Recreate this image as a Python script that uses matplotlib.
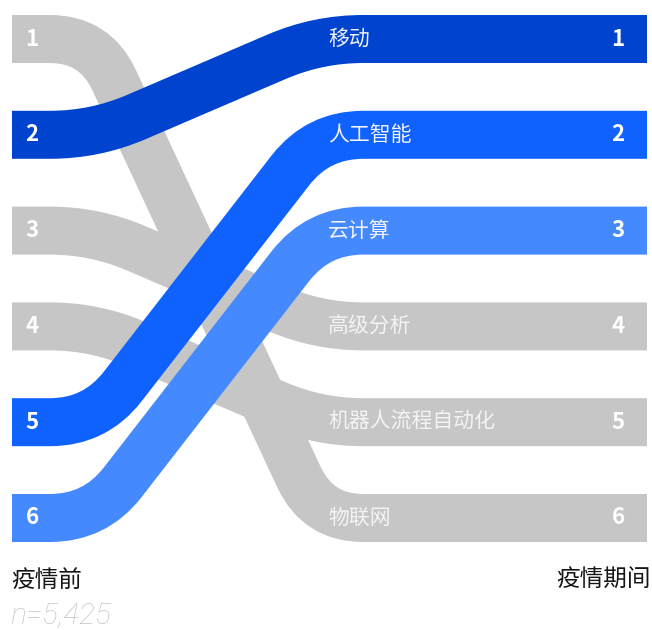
import matplotlib.pyplot as plt
from matplotlib.path import Path
from matplotlib.patches import PathPatch
import numpy as np

plt.rcParams['font.family'] = ['Noto Sans CJK SC', 'DejaVu Sans']

# data
technologies = ['移动', '人工智能', '云计算', '高级分析', '机器人流程自动化', '物联网']
rank_before = [2, 5, 6, 3, 4, 1]
rank_during = [1, 2, 3, 4, 5, 6]
band_colors = ['#0043ce', '#0f62fe', '#4589ff', '#c6c6c6', '#c6c6c6', '#c6c6c6']
left_title = '疫情前'
right_title = '疫情期间'
sample_note = 'n=5,425'

W, H = 652, 630
fig = plt.figure(figsize=(W / 100, H / 100), dpi=100)
ax = fig.add_axes([0, 0, 1, 1])
ax.set_xlim(0, W)
ax.set_ylim(H, 0)
ax.axis('off')

band_px = 48
lw = band_px * 72 / 100
x_left, x_right = 12, 647
corner1, corner2 = 95, 318
radius = 45


def row_y(rank):
    return 39 + (rank - 1) * 95.8


def band_path(yl, yr):
    a = np.array([x_left, yl], float)
    b = np.array([corner1, yl], float)
    c = np.array([corner2, yr], float)
    d = np.array([x_right, yr], float)
    diag = c - b
    dlen = np.hypot(*diag)
    u = diag / dlen
    r = min(radius, 0.45 * dlen)
    verts = [a, b - [r, 0], b, b + u * r, c - u * r, c, c + [r, 0], d]
    codes = [Path.MOVETO, Path.LINETO, Path.CURVE3, Path.CURVE3,
             Path.LINETO, Path.CURVE3, Path.CURVE3, Path.LINETO]
    return Path(verts, codes)


# grey bands first, coloured ones on top
order = sorted(range(len(technologies)), key=lambda i: band_colors[i] != '#c6c6c6')
for i in order:
    p = PathPatch(band_path(row_y(rank_before[i]), row_y(rank_during[i])),
                  fill=False, edgecolor=band_colors[i], lw=lw)
    p.set_capstyle('butt')
    p.set_joinstyle('round')
    ax.add_patch(p)

for i, name in enumerate(technologies):
    yl = row_y(rank_before[i])
    yr = row_y(rank_during[i])
    ax.text(32, yl, str(rank_before[i]), color='white', fontsize=16,
            fontweight='bold', ha='center', va='center')
    ax.text(618, yr, str(rank_during[i]), color='white', fontsize=16,
            fontweight='bold', ha='center', va='center')
    ax.text(328, yr, name, color='#f4f4f4', fontsize=15, ha='left', va='center')

ax.text(11, 580, left_title, color='#161616', fontsize=17, ha='left', va='center')
ax.text(651, 580, right_title, color='#161616', fontsize=17, ha='right', va='center')
ax.text(10, 616, sample_note, color='#c6c6c6', fontsize=21.5, ha='left', va='center',
        family='Roboto', fontstyle='italic', fontweight='light')

fig.savefig('out.png', dpi=100)
